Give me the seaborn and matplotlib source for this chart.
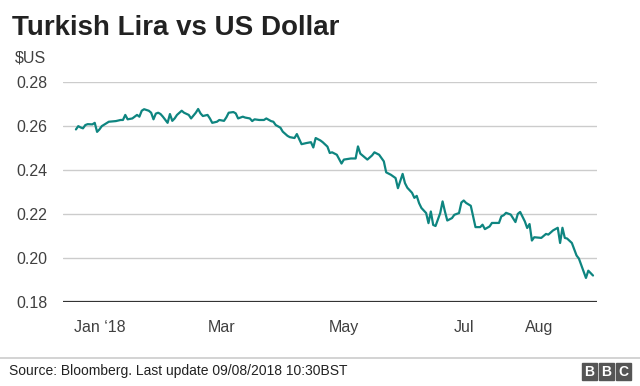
import pandas as pd
import seaborn as sns
import matplotlib.pyplot as plt
from matplotlib.patches import Rectangle

# Lira in US dollars (days counted from 1 Jan 2018)
days = [0, 1, 2, 3, 4, 5, 7, 8, 9, 10, 11, 13, 14, 17, 19, 20, 21, 22, 24, 25,
        26, 27, 28, 29, 31, 32, 33, 34, 35, 36, 37, 39, 40, 41, 42, 43, 45, 46, 48, 49,
        51, 52, 53, 54, 56, 57, 58, 60, 61, 63, 64, 65, 67, 68, 69, 71, 72, 74, 75, 76,
        78, 80, 81, 83, 84, 85, 87, 88, 90, 91, 93, 94, 96, 98, 100, 101, 102, 104, 105, 107,
        108, 109, 111, 113, 114, 117, 119, 120, 121, 124, 126, 127, 129, 131, 132, 134, 136, 137, 139, 140,
        141, 143, 144, 145, 146, 147, 149, 150, 151, 152, 153, 155, 156, 157, 158, 160, 161, 163, 164, 165,
        166, 168, 170, 172, 173, 174, 176, 177, 180, 181, 182, 183, 185, 187, 188, 189, 191, 192, 193, 194,
        195, 198, 200, 201, 203, 205, 206, 207, 208, 209, 211, 213, 214, 217, 218, 220]
usd = [0.2583, 0.2598, 0.2592, 0.2588, 0.2603, 0.2607, 0.2606, 0.2613, 0.2572, 0.2583,
       0.2598, 0.2611, 0.2618, 0.2621, 0.2626, 0.2626, 0.2649, 0.2629, 0.2633, 0.2641,
       0.2649, 0.2641, 0.2668, 0.2675, 0.2668, 0.2659, 0.2629, 0.2655, 0.2659, 0.2653,
       0.2641, 0.2613, 0.2653, 0.2622, 0.2633, 0.2649, 0.2668, 0.2659, 0.2649, 0.2633,
       0.2659, 0.2676, 0.2656, 0.2644, 0.2649, 0.2633, 0.2613, 0.2618, 0.2626, 0.2622,
       0.2638, 0.2659, 0.2662, 0.2656, 0.2633, 0.2641, 0.2637, 0.2633, 0.2621, 0.2629,
       0.2626, 0.2626, 0.2633, 0.2621, 0.2618, 0.2603, 0.2591, 0.2573, 0.2554, 0.2548,
       0.2544, 0.2562, 0.2516, 0.2521, 0.2525, 0.2501, 0.2544, 0.2533, 0.2525, 0.2505,
       0.2476, 0.2479, 0.2468, 0.2428, 0.2446, 0.2451, 0.2451, 0.2506, 0.2473, 0.2446,
       0.2465, 0.2479, 0.2468, 0.2438, 0.2388, 0.2377, 0.2362, 0.2316, 0.2381, 0.2339,
       0.2318, 0.2295, 0.2272, 0.2281, 0.2248, 0.2226, 0.2203, 0.2157, 0.2210, 0.2149,
       0.2144, 0.2203, 0.2256, 0.2210, 0.2169, 0.2180, 0.2195, 0.2203, 0.2251, 0.2260,
       0.2249, 0.2236, 0.2139, 0.2139, 0.2150, 0.2130, 0.2142, 0.2158, 0.2158, 0.2188,
       0.2193, 0.2204, 0.2196, 0.2162, 0.2199, 0.2208, 0.2165, 0.2135, 0.2153, 0.2078,
       0.2093, 0.2090, 0.2108, 0.2105, 0.2124, 0.2136, 0.2067, 0.2136, 0.2090, 0.2087,
       0.2067, 0.2010, 0.1996, 0.1908, 0.1941, 0.1919]

y_ticks = [0.18, 0.20, 0.22, 0.24, 0.26, 0.28]
x_tick_days = [10, 62, 114, 165, 197]
x_tick_labels = ['Jan \u201818', 'Mar', 'May', 'Jul', 'Aug']

start = pd.Timestamp('2018-01-01')
df = pd.DataFrame({'date': start + pd.to_timedelta(days, unit='D'), 'usd': usd})

sns.set_style('white')
plt.rcParams['font.family'] = ['Liberation Sans', 'DejaVu Sans']

fig = plt.figure(figsize=(6.4, 3.86), dpi=100)
ax = fig.add_axes([63 / 640, 1 - 301.7 / 386, 534 / 640, 220 / 386])

for v in y_ticks[1:]:
    ax.axhline(v, color='#cccccc', lw=1, zorder=1)
ax.axhline(0.18, color='#333333', lw=1.6, zorder=3)

sns.lineplot(data=df, x='date', y='usd', ax=ax, color='#0e8580', lw=1.6, zorder=2)

ax.set_ylim(0.18, 0.28)
ax.set_xlim(start + pd.Timedelta(days=-5.5), start + pd.Timedelta(days=221.7))
ax.set_yticks(y_ticks)
ax.set_yticklabels([f'{v:.2f}' for v in y_ticks])
ax.set_xticks(start + pd.to_timedelta(x_tick_days, unit='D'))
ax.set_xticklabels(x_tick_labels)
ax.tick_params(axis='y', length=0, pad=11, labelsize=11.5, labelcolor='#404040')
ax.tick_params(axis='x', length=0, pad=13, labelsize=11.5, labelcolor='#404040')
ax.set_xlabel('')
ax.set_ylabel('')
sns.despine(ax=ax, left=True, bottom=True)

fig.text(12 / 640, 1 - 35 / 386, 'Turkish Lira vs US Dollar', fontsize=20,
         fontweight='bold', color='#222222', va='baseline')
fig.text(15 / 640, 1 - 58 / 386, '$US', fontsize=11.5, color='#404040', va='center')

# footer
fig.add_artist(plt.Line2D([0, 1], [1 - 358 / 386] * 2, color='#cccccc', lw=1.2))
fig.text(9 / 640, 1 - 371 / 386, 'Source: Bloomberg. Last update 09/08/2018 10:30BST',
         fontsize=10, color='#222222', va='center')
for i, letter in enumerate('BBC'):
    x0 = 582 + i * 17
    fig.add_artist(Rectangle((x0 / 640, 1 - 380 / 386), 15 / 640, 17 / 386,
                             transform=fig.transFigure, color='#555555'))
    fig.text((x0 + 7.5) / 640, 1 - 371.5 / 386, letter, fontsize=10, fontweight='bold',
             color='white', ha='center', va='center')

plt.savefig('out.png', dpi=100)
